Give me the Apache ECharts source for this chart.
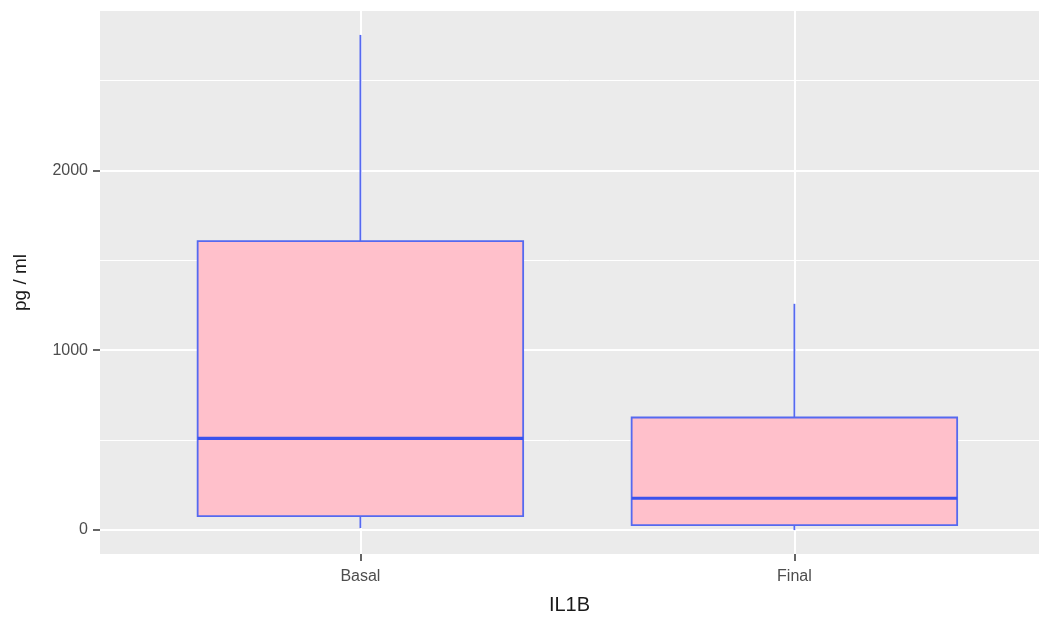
<!DOCTYPE html>
<html>
<head>
<meta charset="utf-8">
<script src="https://cdn.jsdelivr.net/npm/echarts@6/dist/echarts.min.js"></script>
<style>
  html, body { margin: 0; padding: 0; background: #fff; }
  #chart { width: 1039px; height: 620px; }
</style>
</head>
<body>
<div id="chart"></div>
<script>
// IL1B concentration (pg / ml), Basal vs Final
const categories = ['Basal', 'Final'];
const categoryPos = [1, 2];
const mins    = [11, 0];
const q1s     = [78, 28];
const medians = [510, 177];
const q3s     = [1607, 626];
const maxs    = [2753, 1258];
const yMajorTicks = [0, 1000, 2000];
const yMinorTicks = [500, 1500, 2500];

const boxData = categoryPos.map((x, i) => [x, mins[i], q1s[i], medians[i], q3s[i], maxs[i]]);

const BOX_HALF = 0.375;
const EDGE = '#5569F0';
const MEDIAN = '#3A52EE';
const FILL = '#FFC0CB';
const FONT = 'Liberation Sans, Arial, sans-serif';

function renderBox(params, api) {
  const x = api.value(0);
  const vMin = api.value(1), vQ1 = api.value(2), vMed = api.value(3), vQ3 = api.value(4), vMax = api.value(5);
  const pL = api.coord([x - BOX_HALF, vQ3]);
  const pR = api.coord([x + BOX_HALF, vQ1]);
  const pC = api.coord([x, vMed]);
  const pMax = api.coord([x, vMax]);
  const pMin = api.coord([x, vMin]);
  const pQ3 = api.coord([x, vQ3]);
  const pQ1 = api.coord([x, vQ1]);
  const lineStyle = { stroke: EDGE, lineWidth: 1.8, fill: null };
  return {
    type: 'group',
    children: [
      { type: 'line', shape: { x1: pMax[0], y1: pMax[1], x2: pQ3[0], y2: pQ3[1] }, style: lineStyle },
      { type: 'line', shape: { x1: pQ1[0], y1: pQ1[1], x2: pMin[0], y2: pMin[1] }, style: lineStyle },
      { type: 'rect', shape: { x: pL[0], y: pL[1], width: pR[0] - pL[0], height: pR[1] - pL[1] },
        style: { fill: FILL, stroke: EDGE, lineWidth: 1.8 } },
      { type: 'line', shape: { x1: pL[0], y1: pC[1], x2: pR[0], y2: pC[1] },
        style: { stroke: MEDIAN, lineWidth: 3.2 } }
    ]
  };
}

const chart = echarts.init(document.getElementById('chart'), null, { renderer: 'canvas' });
const axisMin = -133, axisMax = 2886;
const xMin = 0.4, xMax = 2.5636;

chart.setOption({
  animation: false,
  backgroundColor: '#ffffff',
  grid: {
    left: 100, right: 0, top: 11, bottom: 64,
    show: true, backgroundColor: '#EBEBEB', borderWidth: 0
  },
  xAxis: {
    type: 'value', min: xMin, max: xMax,
    name: 'IL1B', nameLocation: 'middle', nameGap: 41,
    nameTextStyle: { fontFamily: FONT, fontSize: 20, color: '#1a1a1a' },
    axisLine: { show: false, onZero: false },
    axisTick: { show: true, length: 7, customValues: categoryPos, lineStyle: { color: '#333333', width: 1.5 } },
    axisLabel: {
      customValues: categoryPos, margin: 15,
      fontFamily: FONT, fontSize: 16, color: '#4D4D4D',
      formatter: v => categories[categoryPos.indexOf(Math.round(v))] || ''
    },
    splitLine: { show: true, lineStyle: { color: '#ffffff', width: 2 } }
  },
  yAxis: [{
    type: 'value', min: axisMin, max: axisMax,
    name: 'pg / ml', nameLocation: 'middle', nameGap: 70,
    nameTextStyle: { fontFamily: FONT, fontSize: 19, color: '#1a1a1a' },
    axisLine: { show: false, onZero: false },
    axisTick: { show: true, length: 7, customValues: yMajorTicks, lineStyle: { color: '#333333', width: 1.5 } },
    axisLabel: {
      customValues: yMajorTicks, margin: 12,
      fontFamily: FONT, fontSize: 16, color: '#4D4D4D',
      formatter: v => String(v)
    },
    splitLine: { show: true, lineStyle: { color: '#ffffff', width: 2 } }
  }, {
    type: 'value', min: axisMin, max: axisMax, position: 'left',
    axisLine: { show: false, onZero: false },
    axisTick: { show: false, customValues: yMinorTicks },
    axisLabel: { show: false, customValues: yMinorTicks },
    splitLine: { show: true, lineStyle: { color: '#ffffff', width: 1 } }
  }],
  series: [{
    type: 'custom',
    xAxisIndex: 0, yAxisIndex: 0,
    renderItem: renderBox,
    encode: { x: 0, y: [1, 2, 3, 4, 5] },
    data: boxData,
    clip: false
  }]
});
</script>
</body>
</html>
